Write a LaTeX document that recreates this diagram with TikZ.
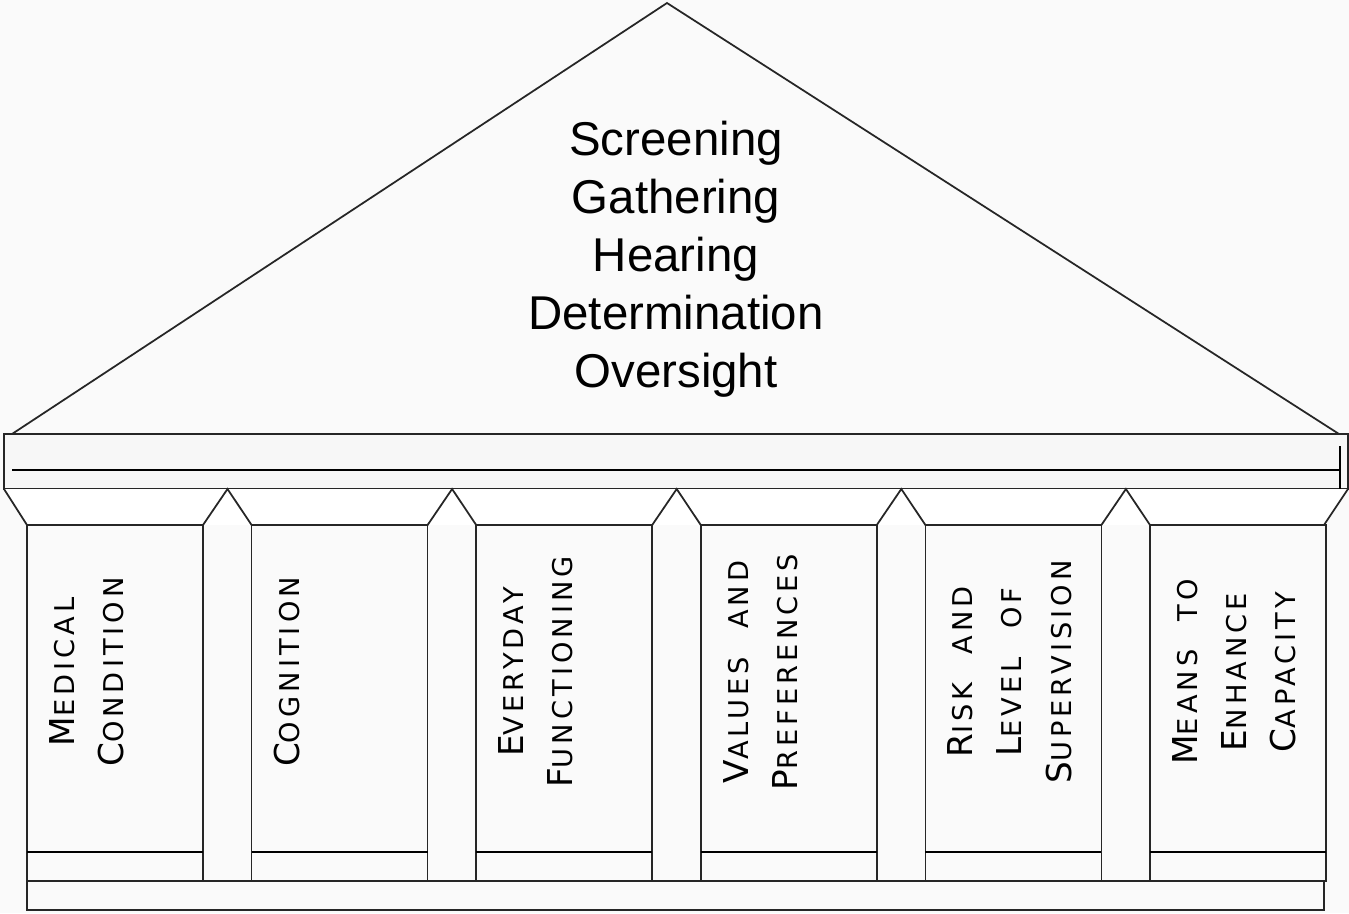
\documentclass[tikz,border=0pt]{standalone}
\usepackage{fontspec}
\setmainfont{Liberation Sans}
\newfontfamily\colfont[LetterSpace=15,WordSpace=2.2]{DejaVu Sans}
\newcommand{\initl}[1]{{\fontsize{19.5}{28}\selectfont #1}}
\tikzset{
  wall/.style={draw=black!85, line width=1pt},
  coltext/.style={rotate=90, anchor=north, align=center, inner sep=0pt,
    font=\colfont\fontsize{15.5}{28}\selectfont},
  roof/.style={align=center, font=\fontsize{27}{33}\selectfont}
}
\begin{document}
\begin{tikzpicture}[x=0.02cm,y=-0.02cm]
\fill[black!2] (0,0) rectangle (1349,913);
\useasboundingbox (0,0) rectangle (1349,913);

% pediment
\draw[wall] (12,434) -- (667,3) -- (1339,434);
\node[roof] (tasks) at (676,259) {Screening\\Gathering\\Hearing\\Determination\\Oversight};

% beam
\draw[wall, fill=black!3] (4,434) rectangle (1348,489);
\draw[line width=1.4pt] (12,470) -- (1340,470);
\draw[line width=1.4pt] (1340,446) -- (1340,493);

% capitals
\fill[white] (4,489) -- (27,525) -- (1324,525) -- (1348,489) -- cycle;
\draw[wall] (4,489) -- (27,525)
  \foreach \i in {0,...,4} {
    -- ({27+224.6*\i+176},525) -- ({27+224.6*\i+200.5},489) -- ({27+224.6*(\i+1)},525)
  } -- (1324,525) -- (1348,489);

% columns
\foreach \i in {0,...,5} {
  \draw[wall, fill=black!2] ({27+224.6*\i},525) rectangle ({27+224.6*\i+176},881);
  \draw[line width=0.9pt] ({27+224.6*\i},852) -- ({27+224.6*\i+176},852);
}

% plinth
\draw[wall] (27,881) rectangle (1324,910);

% pillar labels
\node[coltext] (p1) at (49,672) {\initl{M}EDICAL\\\initl{C}ONDITION};
\node[coltext] (p2) at (273.6,672) {\initl{C}OGNITION};
\node[coltext] (p3) at (498.2,672) {\initl{E}VERYDAY\\\initl{F}UNCTIONING};
\node[coltext] (p4) at (722.8,672) {\initl{V}ALUES AND\\\initl{P}REFERENCES};
\node[coltext] (p5) at (947.4,672) {\initl{R}ISK AND\\\initl{L}EVEL OF\\\initl{S}UPERVISION};
\node[coltext] (p6) at (1172,672) {\initl{M}EANS TO\\\initl{E}NHANCE\\\initl{C}APACITY};
\end{tikzpicture}
\end{document}
